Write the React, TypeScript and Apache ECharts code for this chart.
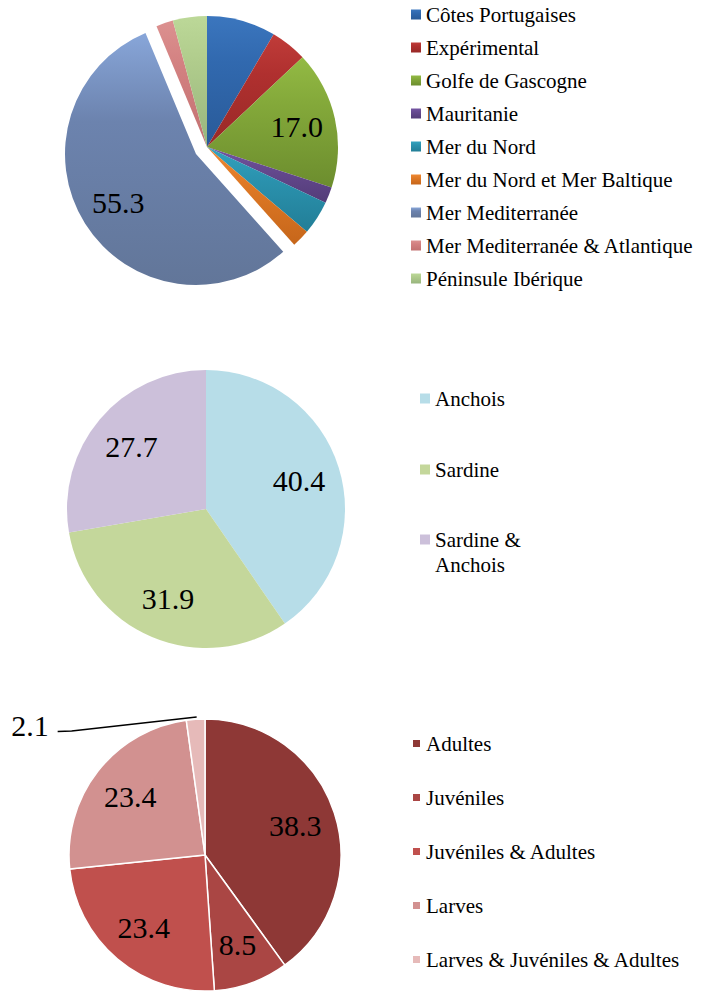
import React, { useEffect, useRef } from 'react';
import * as echarts from 'echarts';

// ---- Data ----
const regionNames = [
  'Côtes Portugaises',
  'Expérimental',
  'Golfe de Gascogne',
  'Mauritanie',
  'Mer du Nord',
  'Mer du Nord et Mer Baltique',
  'Mer Mediterranée',
  'Mer Mediterranée & Atlantique',
  'Péninsule Ibérique',
];
const regionValues = [8.5, 4.5, 17.0, 2.0, 4.2, 2.2, 55.3, 2.1, 4.2];
const regionLabelled = ['Golfe de Gascogne', 'Mer Mediterranée'];
const regionExploded = ['Mer Mediterranée'];

const speciesNames = ['Anchois', 'Sardine', 'Sardine & Anchois'];
const speciesValues = [40.4, 31.9, 27.7];

const stageNames = ['Adultes', 'Juvéniles', 'Juvéniles & Adultes', 'Larves', 'Larves & Juvéniles & Adultes'];
const stageValues = [38.3, 8.5, 23.4, 23.4, 2.1];
const stageOutside = ['Larves & Juvéniles & Adultes'];

// ---- Styles ----
const regionColors: string[][] = [
  ['#3B76BE', '#3169AF', '#295A98'],
  ['#C03C39', '#B0302F', '#982927'],
  ['#93BA44', '#84A93A', '#6C8D2E'],
  ['#7455A3', '#664A90', '#533C78'],
  ['#33A3BF', '#2B93AF', '#227E97'],
  ['#EE8832', '#E07A26', '#C6661A'],
  ['#88A6D9', '#6C83AE', '#627699'],
  ['#DC9190', '#D38181', '#C27171'],
  ['#BCD898', '#B0CC8C', '#98B57E'],
];
const speciesColors = ['#B7DDE8', '#C4D79B', '#CCC0DA'];
const stageColors = ['#8E3836', '#AA4644', '#C0504D', '#D29190', '#E6BAB9'];

const FONT = 'Liberation Serif';

function grad(c: string[]) {
  return new echarts.graphic.LinearGradient(0, 0, 0, 1, [
    { offset: 0, color: c[0] },
    { offset: 0.35, color: c[1] },
    { offset: 1, color: c[2] },
  ]);
}

const labelStyle = {
  fontFamily: FONT,
  fontSize: 30,
  color: '#000',
};

const legendText = {
  fontFamily: FONT,
  fontSize: 21,
  lineHeight: 21,
  color: '#000',
};

export default function App() {
  const ref = useRef<HTMLDivElement>(null);

  useEffect(() => {
    if (!ref.current) return;
    const chart = echarts.init(ref.current, null, { renderer: 'svg' });

    const regionData = regionNames.map((n, i) => ({
      name: n,
      value: regionValues[i],
      selected: regionExploded.includes(n),
      itemStyle: { color: grad(regionColors[i]) },
    }));
    const regionLabelData = regionNames.map((n, i) => ({
      name: n,
      value: regionValues[i],
      selected: regionExploded.includes(n),
      label: { show: regionLabelled.includes(n) },
    }));

    const speciesData = speciesNames.map((n, i) => ({
      name: n,
      value: speciesValues[i],
      itemStyle: { color: speciesColors[i] },
    }));
    const speciesLabelData = speciesNames.map((n, i) => ({ name: n, value: speciesValues[i] }));

    const stageData = stageNames.map((n, i) => ({
      name: n,
      value: stageValues[i],
      itemStyle: { color: stageColors[i] },
    }));
    const stageLabelData = stageNames.map((n, i) => {
      const out = stageOutside.includes(n);
      return {
        name: n,
        value: stageValues[i],
        label: { position: out ? 'outside' : 'inside' },
        labelLine: { show: out, lineStyle: { color: '#000', width: 1.5 } },
      };
    });

    const fmt = (p: any) => Number(p.value).toFixed(1);
    const transparent = { color: 'rgba(0,0,0,0)', borderWidth: 0 };

    const option: any = {
      animation: false,
      backgroundColor: '#fff',
      textStyle: { fontFamily: FONT },
      legend: [
        {
          orient: 'vertical',
          left: 411,
          top: 4,
          padding: 0,
          itemWidth: 10,
          itemHeight: 10,
          itemGap: 12,
          icon: 'rect',
          selectedMode: false,
          data: regionNames,
          textStyle: legendText,
        },
        {
          orient: 'vertical',
          left: 420,
          top: 388,
          padding: 0,
          itemWidth: 10,
          itemHeight: 10,
          itemGap: 50,
          icon: 'rect',
          selectedMode: false,
          data: speciesNames.slice(0, 2),
          textStyle: legendText,
        },
        {
          orient: 'vertical',
          left: 420,
          top: 502,
          padding: 0,
          itemWidth: 10,
          itemHeight: 10,
          icon: 'rect',
          selectedMode: false,
          data: speciesNames.slice(2),
          formatter: (n: string) => '\n' + n.replace(' & ', ' &\n'),
          textStyle: { ...legendText, lineHeight: 25 },
        },
        {
          orient: 'vertical',
          left: 411,
          top: 733,
          padding: 0,
          itemWidth: 9,
          itemHeight: 9,
          itemGap: 33,
          icon: 'rect',
          selectedMode: false,
          data: stageNames,
          textStyle: legendText,
        },
      ],
      series: [
        {
          type: 'pie',
          center: [207, 147],
          radius: [0, 131],
          selectedMode: 'single',
          selectedOffset: 13,
          silent: true,
          label: { show: false },
          labelLine: { show: false },
          data: regionData,
        },
        {
          type: 'pie',
          center: [206, 509],
          radius: [0, 139],
          silent: true,
          label: { show: false },
          labelLine: { show: false },
          data: speciesData,
        },
        {
          type: 'pie',
          center: [205, 855],
          radius: [0, 136],
          silent: true,
          itemStyle: { borderColor: '#fff', borderWidth: 1.5 },
          label: { show: false },
          labelLine: { show: false },
          data: stageData,
        },
        // label overlays
        {
          type: 'pie',
          center: [207, 147],
          radius: [47, 131],
          selectedMode: 'single',
          selectedOffset: 13,
          silent: true,
          itemStyle: transparent,
          label: { show: true, position: 'inside', formatter: fmt, ...labelStyle },
          labelLine: { show: false },
          data: regionLabelData,
        },
        {
          type: 'pie',
          center: [206, 509],
          radius: [50, 139],
          silent: true,
          itemStyle: transparent,
          label: { show: true, position: 'inside', formatter: fmt, ...labelStyle },
          labelLine: { show: false },
          data: speciesLabelData,
        },
        {
          type: 'pie',
          center: [205, 855],
          radius: [48, 136],
          silent: true,
          avoidLabelOverlap: false,
          itemStyle: transparent,
          label: { show: true, formatter: fmt, ...labelStyle },
          labelLine: { show: false },
          labelLayout: (p: any) => {
            if (!stageOutside.includes(stageNames[p.dataIndex])) return {};
            const ax = p.rect.x + p.rect.width / 2;
            const ay = p.rect.y;
            return {
              x: ax - 147,
              y: ay + 6,
              align: 'right',
              verticalAlign: 'middle',
              labelLinePoints: [
                [ax + 1, ay - 2],
                [ax - 124, ay + 12],
                [ax - 138, ay + 12.5],
              ],
            };
          },
          data: stageLabelData,
        },
      ],
    };

    chart.setOption(option);
    return () => chart.dispose();
  }, []);

  return (
    <div
      ref={ref}
      style={{ position: 'absolute', left: 0, top: 0, width: 703, height: 994, background: '#fff' }}
    />
  );
}
